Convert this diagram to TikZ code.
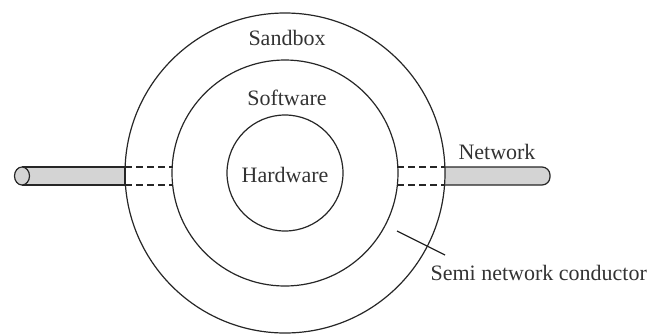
\documentclass[tikz,border=0pt]{standalone}
\usepackage{fontspec}
\setmainfont{Liberation Serif}
\usetikzlibrary{calc}

\begin{document}
\begin{tikzpicture}[x=0.5pt, y=-0.5pt, line width=0.6pt,
    ring/.style={circle, draw=black!85, inner sep=0pt},
    cable/.style={draw=black!85, fill=black!17},
    label/.style={inner sep=0pt, text=black!80, font=\fontsize{11}{13}\selectfont},
    gap/.style={draw=black!85, dash pattern=on 3.5pt off 2pt}]

  \useasboundingbox (0,0) rectangle (647,333);

  % cables
  \draw[cable] (22,167) -- (125,167) -- (125,185) -- (22,185);
  \draw[cable] (22,176) ellipse [x radius=3.75pt, y radius=4.5pt];
  \draw[cable] (445,167) [rounded corners=4pt] -- (550,167) -- (550,185)
    [sharp corners] -- (445,185);

  \node[ring, minimum size=160pt] (sandbox) at (285,173) {};
  \node[ring, minimum size=113pt] (software) at (285,173) {};
  \node[ring, minimum size=58pt] (hardware) at (285,173) {};

  % dashed passage through the sandbox ring
  \draw[gap] (125,167) -- (173,167);
  \draw[gap] (125,185) -- (173,185);
  \draw[gap] (397,167) -- (445,167);
  \draw[gap] (397,185) -- (445,185);

  \node[label] (lsandbox) at (287,38) {Sandbox};
  \node[label] (lsoftware) at (287,98) {Software};
  \node[label] (lhardware) at (285,175) {Hardware};
  \node[label] (lnetwork) at (497,152) {Network};
  \node[label, anchor=west] (lsemi) at (430,273) {Semi network conductor};

  \coordinate (semitip) at (397,231);
  \coordinate (semiend) at (445,255);
  \draw[draw=black!85] (semitip) -- (semiend);
\end{tikzpicture}
\end{document}
